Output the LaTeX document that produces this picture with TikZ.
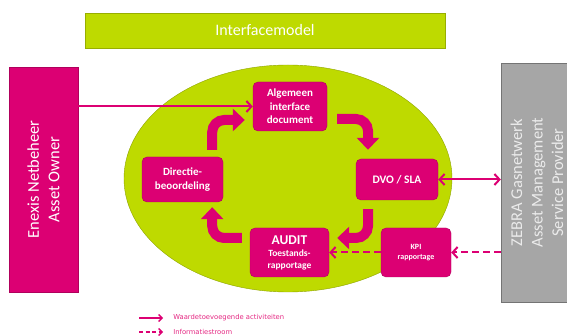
\documentclass[tikz,border=0pt]{standalone}
\usepackage{fontspec}
\setmainfont{Carlito}
\newfontfamily\legfont{DejaVu Sans}
\usetikzlibrary{arrows.meta,shapes.geometric,positioning,calc}
\definecolor{enexis}{RGB}{220,0,115}
\definecolor{lime}{RGB}{190,218,0}
\definecolor{zebra}{RGB}{166,166,166}
\definecolor{legcol}{RGB}{228,40,130}

\begin{document}
\begin{tikzpicture}[x=1pt, y=-1pt, semithick]
\tikzstyle{stap}=[rectangle, rounded corners=5pt, fill=enexis, draw=enexis!80!black, thin, text=white, font=\bfseries, align=center, inner sep=2pt]
\tikzstyle{partij}=[rectangle, thin, inner sep=0pt]
\tikzstyle{partijtekst}=[rotate=90, align=center, font=\fontsize{16.5}{20.5}\selectfont]
\tikzstyle{waarde}=[-{Straight Barb[length=5pt,width=11pt]}, draw=enexis, line width=2pt]
\tikzstyle{info}=[waarde, dash pattern=on 7pt off 4pt]
\tikzstyle{blok}=[-{Triangle[length=12pt,width=22pt]}, enexis, line width=10pt, rounded corners=12pt]
\tikzstyle{legenda}=[anchor=west, text=legcol, font=\legfont\fontsize{6.8}{8}\selectfont, inner sep=0pt]
\useasboundingbox (0,0) rectangle (567,336);

\node[draw=lime!80!black, fill=lime, minimum width=360pt, minimum height=35pt, text=white, font=\fontsize{16}{19}\selectfont] (titel) at (265,30.5) {Interfacemodel};
\node[ellipse, fill=lime, draw=lime!75!black, thin, minimum width=328pt, minimum height=227pt] (model) at (288,178.5) {};

% partijen
\node[partij, fill=enexis, draw=enexis!80!black, minimum width=69pt, minimum height=225pt] (enexis) at (43.5,179.5) {};
\node[partijtekst, text=white] at (enexis) {Enexis Netbeheer\\Asset Owner};
\node[partij, fill=zebra, draw=zebra!70!black, minimum width=72pt, minimum height=239pt] (zebra) at (537,182.5) {};
\node[partijtekst, text=white!92!black] at (zebra) {ZEBRA Gasnetwerk\\Asset Management\\Service Provider};

% stappen
\node[stap, minimum width=74pt, minimum height=49pt, font=\bfseries\fontsize{11}{13.5}\selectfont] (Alg) at (290,106.5) {Algemeen\\interface\\document};
\node[stap, minimum width=81pt, minimum height=45pt, font=\bfseries\fontsize{11}{14.5}\selectfont] (Dir) at (182.5,179.5) {Directie-\\beoordeling};
\node[stap, minimum width=82pt, minimum height=41pt, font=\bfseries\fontsize{11.5}{14}\selectfont] (DVO) at (397,179.5) {DVO / SLA};
\node[stap, minimum width=79pt, minimum height=49pt, font=\bfseries\fontsize{9.5}{12}\selectfont] (AUDIT) at (289.5,252.5) {{\fontsize{13.5}{15}\selectfont AUDIT}\\Toestands-\\rapportage};
\node[stap, minimum width=70pt, minimum height=49pt, font=\bfseries\fontsize{8}{10.5}\selectfont] (KPI) at (416,252.5) {KPI\\rapportage};

% cyclus
\draw[blok] ([xshift=-11pt,yshift=7pt]Dir.north east) |- ([xshift=-8pt,yshift=-13.5pt]Alg.west);
\draw[blok] ([xshift=10pt,yshift=-12.5pt]Alg.east) -| ([xshift=-29pt,yshift=9pt]DVO.north);
\draw[blok] ([xshift=-29pt,yshift=-9pt]DVO.south) |- ([xshift=8pt,yshift=14.5pt]AUDIT.east);
\draw[blok] ([xshift=-8pt,yshift=14.5pt]AUDIT.west) -| ([xshift=-11pt,yshift=-5pt]Dir.south east);

% stromen
\path
(enexis.east |- Alg.west)  edge[waarde]                    (Alg.west)
(DVO.east)                 edge[waarde, {Straight Barb[length=5pt,width=11pt]}-{Straight Barb[length=5pt,width=11pt]}]  (DVO.east -| zebra.west)
(zebra.west |- KPI.east)   edge[info]                      (KPI.east)
(KPI.west)                 edge[info]                      (AUDIT.east);

% legenda
\node[legenda] (legWaarde) at (173,318) {Waardetoevoegende activiteiten};
\node[legenda] (legInfo) at (173,332) {Informatiestroom};
\draw[waarde, line width=1.4pt, -{Straight Barb[length=3.5pt,width=7pt]}] ([xshift=-34pt]legWaarde.west) -- ([xshift=-10pt]legWaarde.west);
\draw[info, line width=1.4pt, dash pattern=on 4pt off 2.5pt, -{Straight Barb[length=3.5pt,width=7pt]}] ([xshift=-34pt]legInfo.west) -- ([xshift=-10pt]legInfo.west);
\end{tikzpicture}
\end{document}
